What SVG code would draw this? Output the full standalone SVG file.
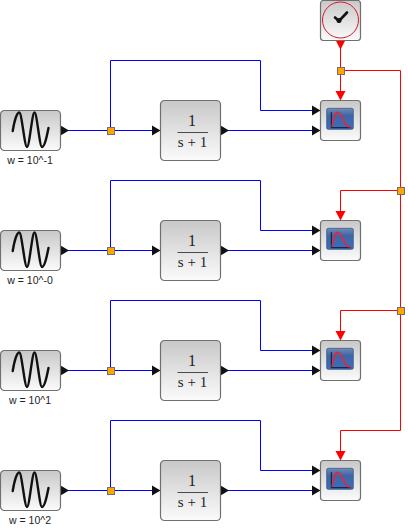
<svg xmlns="http://www.w3.org/2000/svg" width="408" height="531" viewBox="0 0 408 531">
<style>
.box{stroke:#707070;stroke-width:1.200}
.b{fill:none;stroke:#0000ff;stroke-width:1}
.r{fill:none;stroke:#ff0000;stroke-width:1}
.sp{fill:#ffa500;stroke:#707070;stroke-width:1}
.lbl{font-family:"Liberation Sans",Arial,sans-serif;font-size:10.5px;fill:#222;text-anchor:middle}
.tf{font-family:"Liberation Serif","Times New Roman",serif;font-size:16px;fill:#222;text-anchor:middle}
.tf2{font-size:15px}
</style>
<defs>
<linearGradient id="g" x1="0" y1="0" x2="0" y2="1"><stop offset="0" stop-color="#c8c8c8"/><stop offset="1" stop-color="#fbfbfb"/></linearGradient>
<linearGradient id="sc" x1="0" y1="0" x2="0" y2="1"><stop offset="0" stop-color="#6f8cb4"/><stop offset="0.35" stop-color="#3f66a4"/><stop offset="1" stop-color="#3a6fbe"/></linearGradient>
<path id="ab" d="M0 -5L8.500 0L0 5Z" fill="#111"/>
<path id="ad" d="M-5 0L5 0L0 9.500Z" fill="#ff0000"/>
<g id="sine"><rect class="box" x="0.500" y="0.500" width="60" height="40" rx="4" fill="url(#g)"/><path d="M12.700 21C14.500 10 17 2.500 19.300 2.500C21.800 2.500 24.500 37 27 37C29.500 37 32 2.500 34.500 2.500C37 2.500 39.500 37 42 37C44.500 37 46.500 28 48.500 18" fill="none" stroke="#111" stroke-width="2.400" stroke-linecap="round"/></g>
<g id="tfb"><rect class="box" x="0.500" y="0.500" width="60" height="60" rx="4" fill="url(#g)"/></g>
<g id="scope"><rect class="box" x="0.500" y="0.500" width="40" height="40" rx="3" fill="url(#g)"/><rect x="6.700" y="8.300" width="26.600" height="21" rx="1.500" fill="url(#sc)" stroke="#3d5b8a" stroke-width="0.800"/><path d="M11.300 12V27.700H31" fill="none" stroke="#111" stroke-width="0.900"/><path d="M12 26.500C13.500 20 14.500 12.500 17.500 12.300C20.500 12.200 22 18 24.500 22.500C26 25.500 28 27 30.500 27" fill="none" stroke="#f0203a" stroke-width="1.600"/></g>
</defs>
<g id="connectors">
<path class="b" d="M60 130.500H160M110.500 130.500V60.500H260.500V110.500H320M220 130.500H320"/>
<path class="b" d="M60 250.500H160M110.500 250.500V180.500H260.500V230.500H320M220 250.500H320"/>
<path class="b" d="M60 370.500H160M110.500 370.500V300.500H260.500V350.500H320M220 370.500H320"/>
<path class="b" d="M60 490.500H160M110.500 490.500V420.500H260.500V470.500H320M220 490.500H320"/>
<path class="r" d="M340.500 40V100M340.500 70.500H400.500V430.500H340.500V460M400.500 190.500H340.500V220M400.500 310.500H340.500V340"/>
<use href="#ab" x="60.500" y="130.500"/><use href="#ab" x="152" y="130.500"/><use href="#ab" x="220.500" y="130.500"/><use href="#ab" x="312" y="110.500"/><use href="#ab" x="312" y="130.500"/>
<use href="#ab" x="60.500" y="250.500"/><use href="#ab" x="152" y="250.500"/><use href="#ab" x="220.500" y="250.500"/><use href="#ab" x="312" y="230.500"/><use href="#ab" x="312" y="250.500"/>
<use href="#ab" x="60.500" y="370.500"/><use href="#ab" x="152" y="370.500"/><use href="#ab" x="220.500" y="370.500"/><use href="#ab" x="312" y="350.500"/><use href="#ab" x="312" y="370.500"/>
<use href="#ab" x="60.500" y="490.500"/><use href="#ab" x="152" y="490.500"/><use href="#ab" x="220.500" y="490.500"/><use href="#ab" x="312" y="470.500"/><use href="#ab" x="312" y="490.500"/>
<use href="#ad" x="340.500" y="40"/><use href="#ad" x="340.500" y="91"/><use href="#ad" x="340.500" y="211"/><use href="#ad" x="340.500" y="331"/><use href="#ad" x="340.500" y="451"/>
</g>
<g id="split-points">
<rect class="sp" x="107.500" y="127.500" width="7" height="7"/><rect class="sp" x="107.500" y="247.500" width="7" height="7"/><rect class="sp" x="107.500" y="367.500" width="7" height="7"/><rect class="sp" x="107.500" y="487.500" width="7" height="7"/>
<rect class="sp" x="337.500" y="67.500" width="7" height="7"/><rect class="sp" x="397.500" y="187.500" width="7" height="7"/><rect class="sp" x="397.500" y="307.500" width="7" height="7"/>
</g>
<g id="clock"><rect class="box" x="320.500" y="0.500" width="40" height="40" rx="3" fill="url(#g)"/><circle cx="340.500" cy="20" r="18" fill="none" stroke="#d8182a" stroke-width="1"/><path d="M335 17.500L339 21L347 12.500" fill="none" stroke="#111" stroke-width="2.600" stroke-linecap="round"/><circle cx="339" cy="20.500" r="2.500" fill="#111"/></g>
<g id="source1"><use href="#sine" y="110"/><text class="lbl" x="30" y="164">w = 10^-1</text></g>
<g id="source2"><use href="#sine" y="230"/><text class="lbl" x="30" y="284">w = 10^-0</text></g>
<g id="source3"><use href="#sine" y="350"/><text class="lbl" x="30" y="404">w = 10^1</text></g>
<g id="source4"><use href="#sine" y="470"/><text class="lbl" x="30" y="524">w = 10^2</text></g>
<g id="tf1"><use href="#tfb" x="160" y="100"/><text class="tf" x="192" y="126">1</text><path d="M177.500 132.500H208" stroke="#222" stroke-width="0.800"/><text class="tf tf2" x="192.500" y="147">s + 1</text></g>
<g id="tf2"><use href="#tfb" x="160" y="220"/><text class="tf" x="192" y="246">1</text><path d="M177.500 252.500H208" stroke="#222" stroke-width="0.800"/><text class="tf tf2" x="192.500" y="267">s + 1</text></g>
<g id="tf3"><use href="#tfb" x="160" y="340"/><text class="tf" x="192" y="366">1</text><path d="M177.500 372.500H208" stroke="#222" stroke-width="0.800"/><text class="tf tf2" x="192.500" y="387">s + 1</text></g>
<g id="tf4"><use href="#tfb" x="160" y="460"/><text class="tf" x="192" y="486">1</text><path d="M177.500 492.500H208" stroke="#222" stroke-width="0.800"/><text class="tf tf2" x="192.500" y="507">s + 1</text></g>
<g id="scope1"><use href="#scope" x="320" y="100"/></g>
<g id="scope2"><use href="#scope" x="320" y="220"/></g>
<g id="scope3"><use href="#scope" x="320" y="340"/></g>
<g id="scope4"><use href="#scope" x="320" y="460"/></g>
</svg>
